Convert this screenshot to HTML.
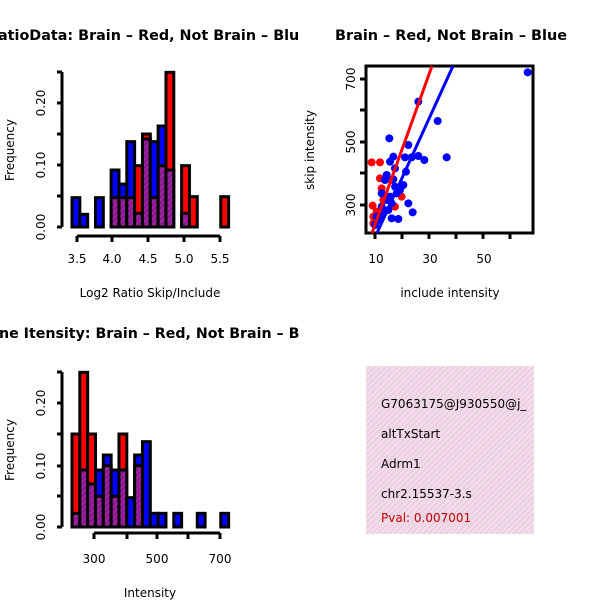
<!DOCTYPE html>
<html><head><meta charset="utf-8"><style>
body{margin:0;background:#fff}
svg{display:block;font-family:"DejaVu Sans","Liberation Sans",sans-serif}
</style></head><body>
<svg id="s" width="600" height="600" viewBox="0 0 600 600" xmlns="http://www.w3.org/2000/svg">
<defs>
<pattern id="hp" width="4" height="4" patternUnits="userSpaceOnUse" patternTransform="rotate(45)">
<rect width="4" height="4" fill="#a020a0"/><rect width="1.5" height="4" fill="#7a1a8a"/></pattern>
<pattern id="pk" width="4" height="4" patternUnits="userSpaceOnUse" patternTransform="rotate(45)">
<rect width="4" height="4" fill="#f6d8f0"/><rect width="1" height="4" fill="#ddd0c8"/></pattern>
<clipPath id="cl"><rect x="0" y="0" width="300" height="600"/></clipPath>
<clipPath id="cr"><rect x="366" y="60" width="168" height="174"/></clipPath>
<clipPath id="ct"><rect x="366" y="366" width="168" height="168"/></clipPath>
</defs>
<g clip-path="url(#cl)" font-weight="bold" font-size="14">
<text x="-2" y="40" textLength="311" lengthAdjust="spacingAndGlyphs">atioData: Brain – Red, Not Brain – Blue</text>
<text x="-1" y="338" textLength="325" lengthAdjust="spacingAndGlyphs">ne Itensity: Brain – Red, Not Brain – Blue</text>
</g>
<text x="335" y="40" font-weight="bold" font-size="14" textLength="232" lengthAdjust="spacingAndGlyphs">Brain – Red, Not Brain – Blue</text>
<g id="h1"></g><g id="h3"></g>
<g font-size="12">
<path d="M62,72V227M57,72H62M57,103H62M57,134H62M57,165H62M57,196H62M57,227H62" stroke="#000" stroke-width="3" fill="none"/>
<path d="M77,236H220M77,236V242M112,236V242M148,236V242M184,236V242M220,236V242" stroke="#000" stroke-width="3" fill="none"/>
<text transform="translate(45,227) rotate(-90)" text-anchor="middle">0.00</text>
<text transform="translate(45,165) rotate(-90)" text-anchor="middle">0.10</text>
<text transform="translate(45,103) rotate(-90)" text-anchor="middle">0.20</text>
<text transform="translate(14,150) rotate(-90)" text-anchor="middle">Frequency</text>
<text x="77" y="263" text-anchor="middle">3.5</text><text x="112" y="263" text-anchor="middle">4.0</text><text x="148" y="263" text-anchor="middle">4.5</text><text x="184" y="263" text-anchor="middle">5.0</text><text x="220" y="263" text-anchor="middle">5.5</text>
<text x="150" y="297" text-anchor="middle">Log2 Ratio Skip/Include</text>
<path d="M62,372V527M57,372H62M57,403H62M57,434H62M57,466H62M57,496H62M57,527H62" stroke="#000" stroke-width="3" fill="none"/>
<path d="M94,533H220M94,533V539M127,533V539M157,533V539M188,533V539M220,533V539" stroke="#000" stroke-width="3" fill="none"/>
<text transform="translate(45,527) rotate(-90)" text-anchor="middle">0.00</text>
<text transform="translate(45,466) rotate(-90)" text-anchor="middle">0.10</text>
<text transform="translate(45,403) rotate(-90)" text-anchor="middle">0.20</text>
<text transform="translate(14,450) rotate(-90)" text-anchor="middle">Frequency</text>
<text x="94" y="563" text-anchor="middle">300</text><text x="157" y="563" text-anchor="middle">500</text><text x="220" y="563" text-anchor="middle">700</text>
<text x="150" y="597" text-anchor="middle">Intensity</text>
<rect x="366" y="66" width="167" height="167" fill="none" stroke="#000" stroke-width="3"/>
<path d="M360,79H366M360,110H366M360,142H366M360,173H366M360,205H366M375,233V239M402,233V239M429,233V239M456,233V239M483,233V239M510,233V239" stroke="#000" stroke-width="3"/>
<text transform="translate(355,79) rotate(-90)" text-anchor="middle">700</text>
<text transform="translate(355,142) rotate(-90)" text-anchor="middle">500</text>
<text transform="translate(355,205) rotate(-90)" text-anchor="middle">300</text>
<text transform="translate(314,150) rotate(-90)" text-anchor="middle">skip intensity</text>
<text x="376" y="263" text-anchor="middle">10</text><text x="430" y="263" text-anchor="middle">30</text><text x="484" y="263" text-anchor="middle">50</text>
<text x="450" y="297" text-anchor="middle">include intensity</text>
</g>
<g clip-path="url(#cr)" id="sc"></g>
<rect x="366" y="366" width="168" height="168" fill="url(#pk)"/>
<g clip-path="url(#ct)" font-size="12">
<text x="381" y="408">G7063175@J930550@j_</text>
<text x="381" y="438">altTxStart</text>
<text x="381" y="468">Adrm1</text>
<text x="381" y="498">chr2.15537-3.s</text>
<text x="381" y="522" fill="#c00000">Pval: 0.007001</text>
</g>
</svg>
<script>
var NS="http://www.w3.org/2000/svg";
function R(g,x,y,w,h,f){var r=document.createElementNS(NS,"rect");r.setAttribute("x",x);r.setAttribute("y",y);r.setAttribute("width",w);r.setAttribute("height",h);r.setAttribute("fill",f);r.setAttribute("stroke","#000");r.setAttribute("stroke-width","3");g.appendChild(r);}
function H(id,off,base,data){var g=document.getElementById(id),w=7.83;
for(var i in data){var d=data[i],x=72+i*w;
var b=d.b!=null?d.b:9999,r=d.r!=null?d.r:9999,top=Math.min(b,r);
var c=(b<=r)?"#0000ff":"#ff0000";
var ty=off+top/3;R(g,x,ty,w,base-ty,c);
if(d.p!=null){var py=off+d.p/3;R(g,x,py,w,base-py,"url(#hp)");}}}
H("h1",60,227,{0:{b:413},1:{b:463},3:{b:413},5:{b:330,p:413},6:{b:372,p:413},7:{b:245,p:413},8:{r:317,p:460},9:{r:222,p:237},10:{b:245,p:413},11:{b:198,p:317},12:{r:37,p:330},14:{r:317,p:460},15:{r:410},19:{r:410}});
H("h3",360,527,{0:{r:222,p:460},1:{r:37,p:330},2:{r:222,p:372},3:{b:330,p:409},4:{b:285,p:317},5:{b:330,p:409},6:{r:222,p:330},7:{b:413},8:{b:285,p:317},9:{b:245},10:{b:460},11:{b:460},13:{b:460},16:{b:460},19:{b:460}});
var sc=document.getElementById("sc");
function L(x1,y1,x2,y2,c){var l=document.createElementNS(NS,"line");l.setAttribute("x1",x1);l.setAttribute("y1",y1);l.setAttribute("x2",x2);l.setAttribute("y2",y2);l.setAttribute("stroke",c);l.setAttribute("stroke-width","3");sc.appendChild(l);}
function P(pts,c){pts.forEach(function(p){var e=document.createElementNS(NS,"circle");e.setAttribute("cx",330+p[0]/3);e.setAttribute("cy",60+p[1]/3);e.setAttribute("r","4");e.setAttribute("fill",c);sc.appendChild(e);});}
P([[125,307],[150,307],[128,437],[150,355],[215,410],[195,440],[130,470],[130,490],[155,385],[185,360],[140,455],[160,420]],"#ff0000");
P([[593,37],[265,125],[323,183],[178,235],[235,255],[350,292],[190,290],[225,292],[245,292],[265,288],[283,300],[180,305],[195,325],[170,345],[228,335],[165,360],[190,358],[220,375],[210,390],[155,400],[200,400],[170,420],[185,430],[235,430],[155,440],[175,450],[248,457],[140,470],[185,475],[205,477],[150,480],[135,495],[160,460],[195,380],[180,410]],"#0000ff");
L(372,233,432,66,"#ff0000");L(377,233,453,66,"#0000ff");
</script>
</body></html>
